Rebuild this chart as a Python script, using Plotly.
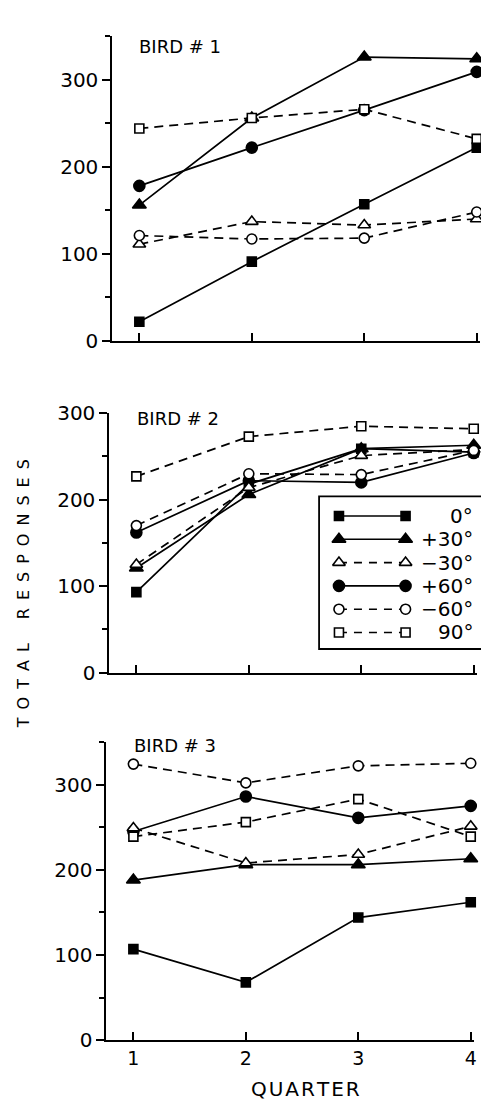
import plotly.graph_objects as go

# ---------------- data ----------------
quarters = [1, 2, 3, 4]
angle_labels = ["0°", "+30°", "−30°", "+60°", "−60°", "90°"]

bird1_0 = [22, 91, 157, 222]
bird1_p30 = [156, 256, 326, 324]
bird1_m30 = [111, 137, 133, 140]
bird1_p60 = [178, 222, 265, 309]
bird1_m60 = [121, 117, 118, 148]
bird1_90 = [244, 256, 266, 232]

bird2_0 = [93, 218, 259, 255]
bird2_p30 = [121, 206, 259, 263]
bird2_m30 = [125, 214, 251, 258]
bird2_p60 = [162, 222, 220, 254]
bird2_m60 = [170, 230, 229, 257]
bird2_90 = [227, 273, 285, 282]

bird3_0 = [107, 68, 144, 162]
bird3_p30 = [188, 206, 206, 213]
bird3_m30 = [249, 208, 218, 251]
bird3_p60 = [245, 286, 261, 275]
bird3_m60 = [324, 302, 322, 325]
bird3_90 = [239, 256, 283, 239]

bird_titles = ["BIRD # 1", "BIRD # 2", "BIRD # 3"]
ytick_vals = [0, 100, 200, 300]
xtick_text = ["1", "2", "3", "4"]

birds = [
    [bird1_0, bird1_p30, bird1_m30, bird1_p60, bird1_m60, bird1_90],
    [bird2_0, bird2_p30, bird2_m30, bird2_p60, bird2_m60, bird2_90],
    [bird3_0, bird3_p30, bird3_m30, bird3_p60, bird3_m60, bird3_90],
]

# ---------------- styles ----------------
W, H = 489, 1104
FONT = "DejaVu Sans"
DASH = "9px,6px"
styles = [
    dict(symbol="square", fill="black", size=9, dash="solid"),
    dict(symbol="triangle-up", fill="black", size=12, dash="solid"),
    dict(symbol="triangle-up", fill="white", size=11, dash=DASH),
    dict(symbol="circle", fill="black", size=11, dash="solid"),
    dict(symbol="circle", fill="white", size=10, dash=DASH),
    dict(symbol="square", fill="white", size=9, dash=DASH),
]
draw_order = [0, 1, 3, 2, 4, 5]


def px_x(p):
    return p / W


def px_y(p):
    return 1 - p / H


# panel layout in pixels: (x_left, x_right, y_top, y_bottom, ymax)
panels = [
    (105, 475, 16.5, 328, 350),
    (102, 472, 402, 667, 300),
    (99, 469, 738, 1043, 350),
]
title_pos = [(130, 27), (128, 407), (125, 742)]

fig = go.Figure()

for i, series in enumerate(birds):
    xa = "x" if i == 0 else f"x{i+1}"
    ya = "y" if i == 0 else f"y{i+1}"
    for k in draw_order:
        st = styles[k]
        fig.add_trace(go.Scatter(
            x=quarters, y=series[k], mode="lines+markers",
            xaxis=xa, yaxis=ya, showlegend=False, cliponaxis=False,
            line=dict(color="black", width=1.7, dash=st["dash"]),
            marker=dict(symbol=st["symbol"], size=st["size"], color=st["fill"],
                        line=dict(color="black", width=1.6)),
            name=angle_labels[k],
        ))

layout = dict(
    width=W, height=H, margin=dict(l=0, r=0, t=0, b=0),
    paper_bgcolor="white", plot_bgcolor="white",
    font=dict(family=FONT, color="black"),
    showlegend=False,
)

for i, (xl, xr, yt, yb, ymax) in enumerate(panels):
    sx = "" if i == 0 else str(i + 1)
    layout[f"xaxis{sx}"] = dict(
        domain=[px_x(xl), px_x(xr)], range=[0.76, 4.03],
        anchor=f"y{sx}", showgrid=False, zeroline=False,
        showline=True, linecolor="black", linewidth=2,
        tickvals=quarters, ticktext=xtick_text, ticks="inside", ticklen=8,
        tickwidth=1.8, tickcolor="black",
        showticklabels=(i == 2), tickfont=dict(size=19, family=FONT),
    )
    layout[f"yaxis{sx}"] = dict(
        domain=[px_y(yb), px_y(yt)], range=[0, ymax],
        anchor=f"x{sx}", showgrid=False, zeroline=False,
        showline=True, linecolor="black", linewidth=2,
        tickvals=ytick_vals, ticks="outside", ticklen=8, tickwidth=1.8,
        tickcolor="black", tickfont=dict(size=20, family=FONT),
        minor=dict(dtick=50, ticks="outside", ticklen=5, tickwidth=1.5,
                   tickcolor="black", showgrid=False),
    )

# ---------------- custom legend (panel 2) ----------------
leg_x0, leg_x1, leg_y0, leg_y1 = 313, 489, 487, 643
layout["xaxis4"] = dict(domain=[px_x(leg_x0), 1], range=[-0.2985, 2.328],
                        anchor="y4", visible=False, fixedrange=True)
layout["yaxis4"] = dict(domain=[px_y(leg_y1), px_y(leg_y0)], range=[5.71, -0.84],
                        anchor="x4", visible=False, fixedrange=True)

for k, st in enumerate(styles):
    fig.add_trace(go.Scatter(
        x=[0, 1], y=[k, k], mode="lines+markers", xaxis="x4", yaxis="y4",
        showlegend=False, cliponaxis=False, hoverinfo="skip",
        line=dict(color="black", width=1.6, dash="8px,7px" if st["dash"] != "solid" else "solid"),
        marker=dict(symbol=st["symbol"], size=st["size"], color=st["fill"],
                    line=dict(color="black", width=1.6)),
    ))

annotations = []
for k, lab in enumerate(angle_labels):
    annotations.append(dict(x=2.045, y=k, xref="x4", yref="y4", text=lab,
                            showarrow=False, xanchor="right", yanchor="middle",
                            font=dict(size=20, family=FONT)))

for (tx, ty), t in zip(title_pos, bird_titles):
    annotations.append(dict(x=px_x(tx), y=px_y(ty), xref="paper", yref="paper",
                            text=t, showarrow=False, xanchor="left", yanchor="middle",
                            font=dict(size=18, family=FONT)))

annotations.append(dict(x=px_x(15), y=px_y(586), xref="paper", yref="paper",
                        text="\u2002".join("TOTAL") + "\u2003\u2002" + "\u2002".join("RESPONSES"),
                        textangle=-90, showarrow=False, xanchor="center", yanchor="middle",
                        font=dict(size=16, family=FONT)))
annotations.append(dict(x=px_x(299), y=px_y(1093), xref="paper", yref="paper",
                        text="\u200a".join("QUARTER"), showarrow=False,
                        xanchor="center", yanchor="middle",
                        font=dict(size=20, family=FONT)))

layout["annotations"] = annotations
layout["shapes"] = [dict(type="rect", xref="paper", yref="paper",
                         x0=px_x(leg_x0), x1=1.02, y0=px_y(leg_y1), y1=px_y(leg_y0),
                         line=dict(color="black", width=1.8), fillcolor="rgba(0,0,0,0)")]

fig.update_layout(**layout)
fig.write_html("out.html")
